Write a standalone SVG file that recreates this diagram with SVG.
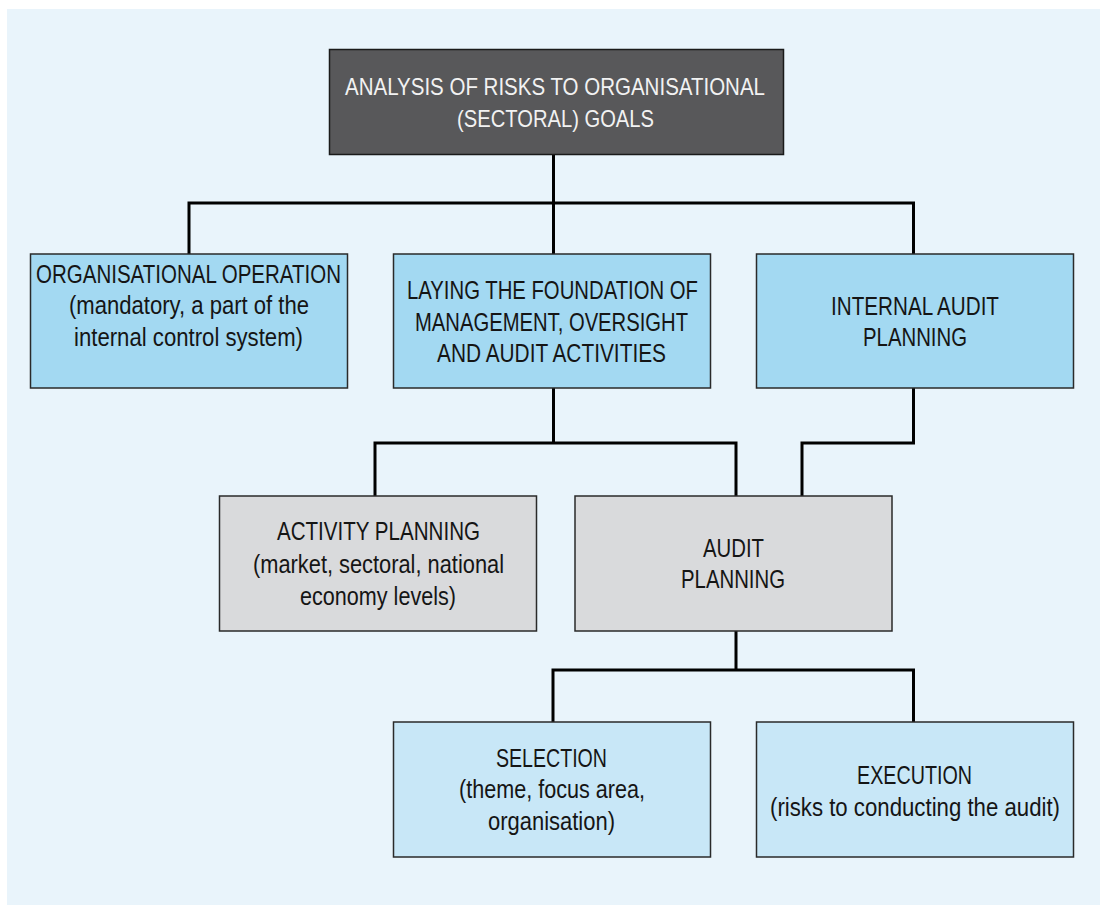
<svg xmlns="http://www.w3.org/2000/svg" width="1100" height="905" viewBox="0 0 1100 905">
<style>
.box{stroke:#2a2a2a;stroke-width:1.5}
.dark{fill:#58585A;stroke:#1a1a1a}
.blue{fill:#A3D9F2}
.lblue{fill:#C8E7F7}
.gray{fill:#D9DADC}
.t{font-family:"Liberation Sans Narrow","Liberation Sans",Arial,sans-serif;font-size:25px;fill:#151515;text-anchor:middle}
.w{fill:#F2F2F2;font-size:24px}
.conn{fill:none;stroke:#000;stroke-width:3}
</style>
<rect x="7" y="9" width="1093" height="896" fill="#E9F4FB"/>
<g id="connectors">
<path class="conn" d="M553.5 154 V203 M189 203 H913.5 M189 201.5 V254 M553.5 203 V254 M913.5 201.5 V254"/>
<path class="conn" d="M553.5 388 V443 M375 443 H736 M375 441.5 V496 M736 441.5 V496"/>
<path class="conn" d="M913.5 388 V443 H802 V496"/>
<path class="conn" d="M736 631 V670 M553 670 H913.5 M553 668.5 V722 M913.5 668.5 V722"/>
</g>
<g id="n-analysis">
<rect class="box dark" x="329.5" y="49.5" width="454" height="105"/>
<text class="t w" x="555" y="95" textLength="420" lengthAdjust="spacingAndGlyphs">ANALYSIS OF RISKS TO ORGANISATIONAL</text>
<text class="t w" x="555.5" y="127" textLength="197" lengthAdjust="spacingAndGlyphs">(SECTORAL) GOALS</text>
</g>
<g id="n-orgop">
<rect class="box blue" x="30.5" y="254" width="317" height="134"/>
<text class="t" x="188.5" y="283" textLength="305" lengthAdjust="spacingAndGlyphs">ORGANISATIONAL OPERATION</text>
<text class="t" x="189" y="314" textLength="240" lengthAdjust="spacingAndGlyphs">(mandatory, a part of the</text>
<text class="t" x="188.5" y="346" textLength="229" lengthAdjust="spacingAndGlyphs">internal control system)</text>
</g>
<g id="n-foundation">
<rect class="box blue" x="393.5" y="254" width="317" height="134"/>
<text class="t" x="552.5" y="299" textLength="291" lengthAdjust="spacingAndGlyphs">LAYING THE FOUNDATION OF</text>
<text class="t" x="551.5" y="331" textLength="273" lengthAdjust="spacingAndGlyphs">MANAGEMENT, OVERSIGHT</text>
<text class="t" x="551.5" y="362" textLength="229" lengthAdjust="spacingAndGlyphs">AND AUDIT ACTIVITIES</text>
</g>
<g id="n-internal">
<rect class="box blue" x="756.5" y="254" width="317" height="134"/>
<text class="t" x="915" y="315" textLength="168" lengthAdjust="spacingAndGlyphs">INTERNAL AUDIT</text>
<text class="t" x="915" y="346" textLength="104" lengthAdjust="spacingAndGlyphs">PLANNING</text>
</g>
<g id="n-activity">
<rect class="box gray" x="219.5" y="496" width="317" height="135"/>
<text class="t" x="378.5" y="540" textLength="203" lengthAdjust="spacingAndGlyphs">ACTIVITY PLANNING</text>
<text class="t" x="378.5" y="573" textLength="251" lengthAdjust="spacingAndGlyphs">(market, sectoral, national</text>
<text class="t" x="378" y="605" textLength="156" lengthAdjust="spacingAndGlyphs">economy levels)</text>
</g>
<g id="n-audit">
<rect class="box gray" x="575" y="496" width="317" height="135"/>
<text class="t" x="733.5" y="557" textLength="61" lengthAdjust="spacingAndGlyphs">AUDIT</text>
<text class="t" x="733" y="588" textLength="104" lengthAdjust="spacingAndGlyphs">PLANNING</text>
</g>
<g id="n-selection">
<rect class="box lblue" x="393.5" y="722" width="317" height="135"/>
<text class="t" x="551.5" y="767" textLength="111" lengthAdjust="spacingAndGlyphs">SELECTION</text>
<text class="t" x="552" y="798" textLength="186" lengthAdjust="spacingAndGlyphs">(theme, focus area,</text>
<text class="t" x="551.5" y="830" textLength="127" lengthAdjust="spacingAndGlyphs">organisation)</text>
</g>
<g id="n-execution">
<rect class="box lblue" x="756.5" y="722" width="317" height="135"/>
<text class="t" x="914.5" y="784" textLength="115" lengthAdjust="spacingAndGlyphs">EXECUTION</text>
<text class="t" x="915" y="816" textLength="290" lengthAdjust="spacingAndGlyphs">(risks to conducting the audit)</text>
</g>
</svg>
